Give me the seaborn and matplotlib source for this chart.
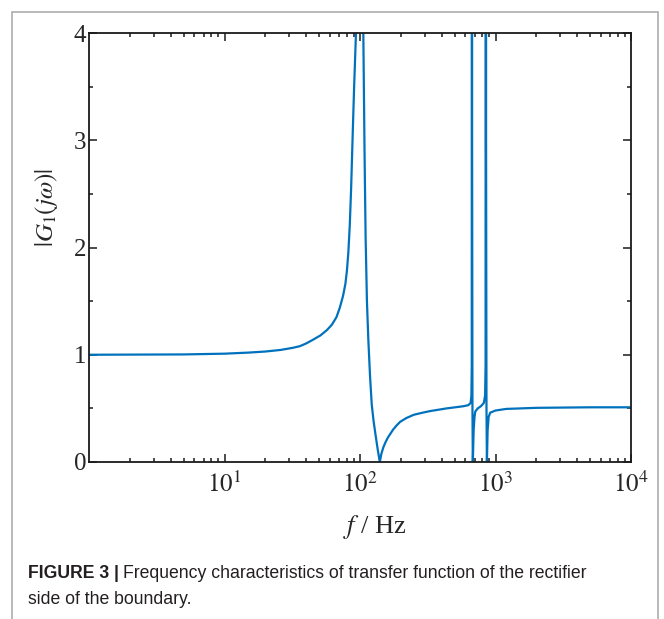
import matplotlib
matplotlib.use("Agg")
import matplotlib.pyplot as plt
import seaborn as sns
import pandas as pd
from matplotlib.patches import Rectangle
from matplotlib.ticker import LogLocator, NullFormatter, MultipleLocator

# ---- data ----
freq_hz = [1, 5, 10, 15, 20, 26, 32, 36, 40, 45, 51, 57, 62, 67, 71, 75, 78,
           80, 82, 84, 86, 88.3, 90.5, 93.4, 96, 99.5, 103, 105.8, 108, 110,
           112.5, 115.2, 118.6, 122, 126, 130, 135, 140, 144, 149, 155, 161,
           167, 175, 186, 198, 220, 249, 290, 330, 437, 580, 630, 655,
           664, 668, 670, 672, 676, 680, 690, 700, 709, 740, 780, 820, 838,
           845, 849, 852, 858, 864, 875, 890, 914, 1000, 1200, 2000, 5000,
           10000]
gain = [1.0, 1.003, 1.01, 1.02, 1.03, 1.045, 1.065, 1.08, 1.105, 1.14, 1.18,
        1.23, 1.28, 1.35, 1.44, 1.55, 1.66, 1.78, 1.95, 2.2, 2.55, 3.05, 3.5,
        4.0, 6.0, 60.0, 8.0, 4.0, 2.9, 2.1, 1.5, 1.14, 0.8, 0.54, 0.38, 0.26,
        0.12, 0.0, 0.08, 0.14, 0.19, 0.23, 0.26, 0.3, 0.34, 0.375, 0.41,
        0.44, 0.46, 0.475, 0.50, 0.52, 0.53, 0.55, 0.62, 0.9, 60.0, 3.0,
        0.5, 0.0, 0.3, 0.42, 0.47, 0.50, 0.52, 0.55, 0.62, 0.9, 60.0, 3.0,
        0.5, 0.0, 0.3, 0.42, 0.46, 0.48, 0.495, 0.505, 0.51, 0.51]

x_ticks = [10, 100, 1000, 10000]
x_tick_labels = [r"$10^{1}$", r"$10^{2}$", r"$10^{3}$", r"$10^{4}$"]
y_ticks = [0, 1, 2, 3, 4]
y_tick_labels = ["0", "1", "2", "3", "4"]

caption_bold = "FIGURE 3 |"
caption_rest_1 = "Frequency characteristics of transfer function of the rectifier"
caption_rest_2 = "side of the boundary."

df = pd.DataFrame({"f": freq_hz, "G": gain})

sns.set_style("ticks")
plt.rcParams["font.family"] = ["Liberation Serif", "DejaVu Serif"]
plt.rcParams["mathtext.fontset"] = "stix"

W, H = 664, 619
fig = plt.figure(figsize=(W / 100, H / 100), dpi=100)

# outer frame
fig.patches.append(Rectangle((12 / W, -0.05), (658 - 12) / W, 1.05 - 12 / H,
                             transform=fig.transFigure, fill=False,
                             edgecolor="#b3b3b3", linewidth=1.3))

ax = fig.add_axes([89 / W, 1 - 462 / H, (631 - 89) / W, (462 - 33) / H])
sns.lineplot(data=df, x="f", y="G", ax=ax, estimator=None, sort=False,
             color="#0072BD", linewidth=1.6)

ax.set_xscale("log")
ax.set_xlim(1, 10000)
ax.set_ylim(0, 4)

ax.set_xticks(x_ticks)
ax.set_xticklabels(x_tick_labels)
ax.xaxis.set_minor_locator(LogLocator(base=10, subs=range(2, 10), numticks=20))
ax.xaxis.set_minor_formatter(NullFormatter())
ax.set_yticks(y_ticks)
ax.set_yticklabels(y_tick_labels)
ax.yaxis.set_minor_locator(MultipleLocator(0.5))

for s in ax.spines.values():
    s.set_linewidth(1.3)
    s.set_color("#1a1a1a")

ax.tick_params(which="both", direction="in", top=True, right=True,
               color="#1a1a1a", width=1.1)
ax.tick_params(which="major", length=6, labelsize=18, pad=2)
ax.tick_params(axis="x", which="major", pad=7)
ax.tick_params(which="minor", length=3)

ax.set_xlabel(r"$f$ / Hz", fontsize=19)
ax.xaxis.set_label_coords((375 - 89) / 542, -(513 - 462) / 429)
ax.set_ylabel(r"$|G_1(j\omega)|$", fontsize=18)
ax.yaxis.set_label_coords((60 - 89) / 542, (462 - 208) / 429)

# caption
cap_font = ["Liberation Sans", "DejaVu Sans"]
cap_color = "#231f20"
t_bold = fig.text(28 / W, 1 - 578 / H, caption_bold, family=cap_font,
                  fontsize=12.7, fontweight="bold", color=cap_color,
                  ha="left", va="baseline")
ax.annotate(caption_rest_1, xy=(1, 0), xycoords=t_bold, xytext=(3, 0),
            textcoords="offset points", family=cap_font, fontsize=12.7,
            color=cap_color, ha="left", va="bottom", annotation_clip=False)
fig.text(28 / W, 1 - 604 / H, caption_rest_2, family=cap_font,
         fontsize=12.7, color=cap_color, ha="left", va="baseline")

fig.savefig("out.png", dpi=100)
